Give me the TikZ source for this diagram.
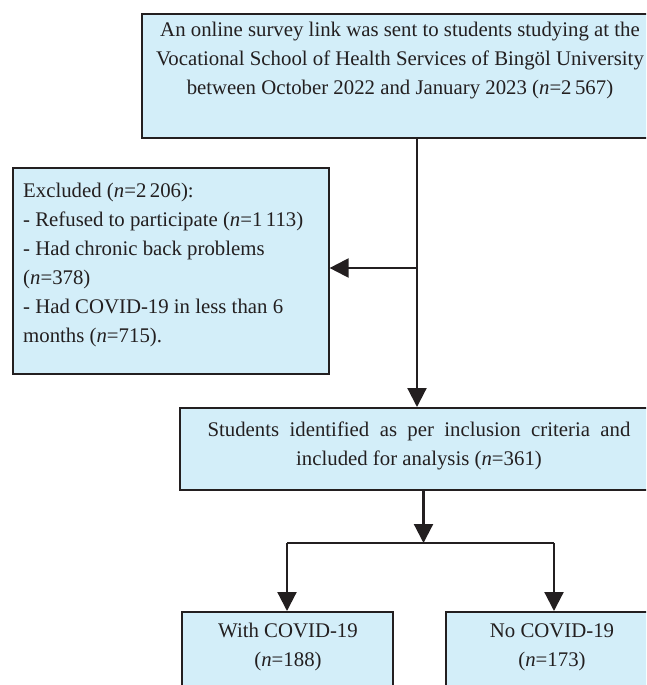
\documentclass[tikz,border=0pt]{standalone}
\usepackage{fontspec}
\setmainfont{Liberation Serif}
\usetikzlibrary{arrows.meta}
\definecolor{boxfill}{RGB}{211,238,249}
\definecolor{ink}{RGB}{35,31,32}
\begin{document}
\begin{tikzpicture}[x=1pt,y=-1pt,
  box/.style={draw=ink,fill=boxfill,line width=1.6pt,rectangle,inner sep=0pt,anchor=north west},
  txt/.style={text=ink,font=\fontsize{20.8}{29}\selectfont,inner sep=0pt,align=center},
  conn/.style={draw=ink,line width=2.2pt},
  arr/.style={conn,-{Triangle[width=19pt,length=19pt]}}]
\useasboundingbox (0,0) rectangle (646,685);
\clip (0,0) rectangle (646,685);
% boxes
\node[box,minimum width=518pt,minimum height=124pt] (top) at (141,13) {};
\node[box,minimum width=316pt,minimum height=206pt] (excl) at (12,167) {};
\node[box,minimum width=480pt,minimum height=82pt] (mid) at (179,407) {};
\node[box,minimum width=211pt,minimum height=100pt] (left) at (181,611) {};
\node[box,minimum width=214pt,minimum height=100pt] (right) at (445,611) {};
% texts
\node[txt] (toptxt) at (400,61) {An online survey link was sent to students studying at the\\Vocational School of Health Services of Bingöl University\\between October 2022 and January 2023 (\textit{n}=2\,567)};
\node[txt,align=left,anchor=west] (excltxt) at (23,264.5) {Excluded (\textit{n}=2\,206):\\- Refused to participate (\textit{n}=1\,113)\\- Had chronic back problems\\(\textit{n}=378)\\- Had COVID-19 in less than 6\\months (\textit{n}=715).};
\node[txt] (midtxt) at (419,446) {Students\ \ identified\ \ as\ \ per\ \ inclusion\ \ criteria\ \ and\\included for analysis (\textit{n}=361)};
\node[txt] (lefttxt) at (288,647) {With COVID-19\\(\textit{n}=188)};
\node[txt] (righttxt) at (552,647) {No COVID-19\\(\textit{n}=173)};
% junctions
\coordinate (j1) at (417,268);
\coordinate (j2) at (423.5,543);
\coordinate (jl) at (287,543);
\coordinate (jr) at (554,543);
% connectors
\draw[arr] (top.south -| j1) -- (mid.north -| j1);
\draw[arr] (j1) -- (excl.east |- j1);
\draw[arr] (mid.south -| j2) -- (j2);
\draw[conn] (jl) -- (jr);
\draw[arr] (jl) -- (left.north -| jl);
\draw[arr] (jr) -- (right.north -| jr);
\end{tikzpicture}
\end{document}
